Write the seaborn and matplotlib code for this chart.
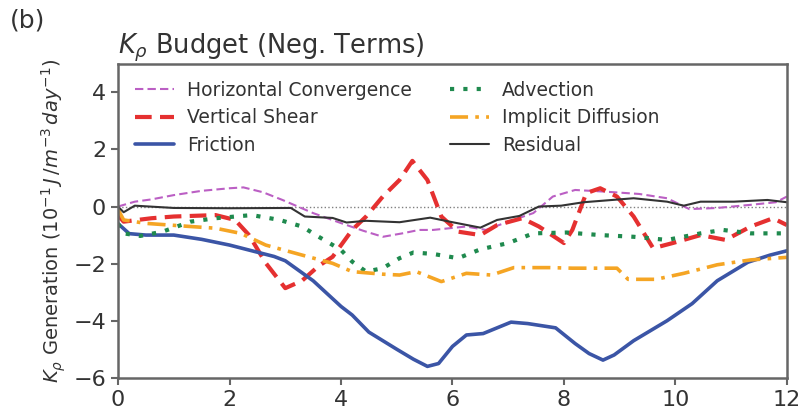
import numpy as np
import pandas as pd
import seaborn as sns
import matplotlib
matplotlib.use("Agg")
import matplotlib.pyplot as plt

# values (x in days, y in 10^-1 J m^-3 day^-1)
hconv_x = [0, 0.3, 0.6, 1.0, 1.5, 2.0, 2.25, 2.6, 2.95, 3.5, 4.0, 4.4, 4.75, 5.1, 5.4, 5.65,
           6.0, 6.25, 6.6, 7.0, 7.45, 7.8, 8.2, 8.75, 9.35, 9.85, 10.25, 10.75, 11.35, 11.8, 12.0]
hconv_y = [0.0, 0.17, 0.25, 0.4, 0.55, 0.64, 0.67, 0.5, 0.23, -0.23, -0.58, -0.85, -1.06, -0.94,
           -0.82, -0.82, -0.75, -0.7, -0.82, -0.53, -0.23, 0.35, 0.58, 0.52, 0.44, 0.29, -0.09,
           -0.05, 0.06, 0.15, 0.35]

vshear_x = [0, 0.1, 0.6, 1.0, 1.75, 2.1, 2.35, 2.65, 3.0, 3.3, 3.6, 3.85, 4.2, 4.45, 4.75, 5.05,
            5.28, 5.55, 5.8, 6.1, 6.5, 6.8, 7.25, 7.55, 8.0, 8.15, 8.4, 8.65, 8.95, 9.25, 9.6,
            9.95, 10.45, 10.9, 11.35, 11.75, 12]
vshear_y = [-0.3, -0.53, -0.41, -0.35, -0.3, -0.47, -1.0, -1.98, -2.86, -2.6, -2.08, -1.76, -0.82,
            -0.35, 0.35, 0.93, 1.6, 0.93, -0.35, -0.88, -1.0, -0.65, -0.41, -0.7, -1.28, -0.82,
            0.47, 0.64, 0.35, -0.35, -1.46, -1.28, -1.0, -1.17, -0.7, -0.41, -0.65]

fric_x = [0, 0.2, 0.5, 1.0, 1.5, 2.0, 2.5, 2.8, 3.0, 3.5, 4.0, 4.2, 4.5, 5.0, 5.3, 5.55, 5.75,
          6.0, 6.25, 6.55, 7.05, 7.35, 7.85, 8.2, 8.45, 8.7, 8.9, 9.25, 9.85, 10.3, 10.75, 11.3,
          11.7, 12.0]
fric_y = [-0.6, -0.95, -1.0, -1.0, -1.15, -1.35, -1.6, -1.75, -1.9, -2.6, -3.5, -3.8, -4.4, -5.0,
          -5.35, -5.6, -5.5, -4.9, -4.5, -4.45, -4.05, -4.1, -4.25, -4.8, -5.15, -5.38, -5.2,
          -4.7, -4.0, -3.4, -2.6, -1.95, -1.7, -1.55]

adv_x = [0, 0.1, 0.4, 0.8, 1.3, 1.75, 2.4, 2.9, 3.3, 3.6, 4.0, 4.2, 4.45, 4.75, 5.05, 5.3, 5.65,
         6.1, 6.5, 7.0, 7.45, 8.05, 8.65, 9.25, 9.85, 10.45, 10.85, 11.35, 12]
adv_y = [-0.6, -0.94, -1.03, -0.88, -0.53, -0.41, -0.3, -0.47, -0.7, -1.06, -1.52, -1.93, -2.28,
         -2.16, -1.81, -1.61, -1.66, -1.81, -1.5, -1.28, -0.94, -0.91, -1.0, -1.06, -1.17, -0.94,
         -0.82, -0.94, -0.94]

diff_x = [0, 0.1, 0.5, 1.3, 1.75, 2.2, 2.65, 3.3, 3.85, 4.2, 4.75, 5.05, 5.35, 5.8, 6.25, 6.7,
          7.1, 7.75, 8.15, 8.95, 9.15, 9.65, 10.15, 10.75, 11.35, 12]
diff_y = [-0.1, -0.47, -0.59, -0.7, -0.76, -0.94, -1.35, -1.7, -1.99, -2.28, -2.37, -2.4, -2.28,
          -2.63, -2.34, -2.4, -2.14, -2.14, -2.16, -2.16, -2.55, -2.55, -2.34, -2.04, -1.87, -1.78]

resid_x = [0, 0.1, 0.3, 1, 2, 3.1, 3.35, 3.85, 4.1, 4.45, 5.05, 5.6, 5.95, 6.5, 6.8, 7.2, 7.55,
           7.95, 8.35, 9.25, 9.85, 10.15, 10.45, 11.05, 11.65, 12]
resid_y = [0, -0.2, 0.03, -0.05, -0.06, -0.05, -0.35, -0.4, -0.56, -0.5, -0.55, -0.39, -0.53,
           -0.74, -0.47, -0.33, 0.0, 0.03, 0.15, 0.29, 0.17, 0.03, 0.17, 0.17, 0.23, 0.15]

x_ticks = [0, 2, 4, 6, 8, 10, 12]
y_ticks = [-6, -4, -2, 0, 2, 4]

sns.set_theme(style="ticks")
plt.rcParams['font.family'] = ['DejaVu Sans']
plt.rcParams['text.color'] = '#333333'
plt.rcParams['axes.labelcolor'] = '#333333'

fig = plt.figure(figsize=(8.03, 4.17), dpi=100)
ax = fig.add_axes([0.147, 0.094, 0.833, 0.753])

ax.axhline(0, color="grey", lw=1, ls=":", zorder=1)

series = [
    ("Horizontal Convergence", hconv_x, hconv_y, "#bb5fc4", (0, (4, 2)), 1.5),
    ("Vertical Shear", vshear_x, vshear_y, "#e53030", (0, (4, 2)), 3.0),
    ("Friction", fric_x, fric_y, "#3b55a6", "-", 2.6),
    ("Advection", adv_x, adv_y, "#1f8a4e", (0, (1, 2.2)), 3.0),
    ("Implicit Diffusion", diff_x, diff_y, "#f5a524", (0, (5, 2, 1, 2)), 2.6),
    ("Residual", resid_x, resid_y, "#333333", "-", 1.5),
]
for label, xs, ys, color, ls, lw in series:
    sns.lineplot(x=xs, y=ys, ax=ax, color=color, lw=lw, linestyle=ls, label=label)

ax.set_xlim(0, 12)
ax.set_ylim(-6, 5)
ax.set_xticks(x_ticks)
ax.set_yticks(y_ticks)
ax.tick_params(labelsize=16, length=5, width=1.5, color="#666666", labelcolor="#333333")
for s in ax.spines.values():
    s.set_color("#666666")
    s.set_linewidth(1.8)

ax.set_ylabel(r"$K_\rho$ Generation ($10^{-1}\,J\,/m^{-3}\,day^{-1}$)", fontsize=14, labelpad=4)
ax.set_title(r"$K_\rho$ Budget (Neg. Terms)", loc="left", fontsize=18.5, pad=7)
ax.legend(loc="upper left", ncol=2, frameon=False, fontsize=13.5, handlelength=2.1,
          handletextpad=0.7, columnspacing=2.0, labelspacing=0.45,
          bbox_to_anchor=(0.0, 1.0))

fig.text(0.012, 0.952, "(b)", fontsize=18, va="center")

fig.savefig("out.png", dpi=100)
